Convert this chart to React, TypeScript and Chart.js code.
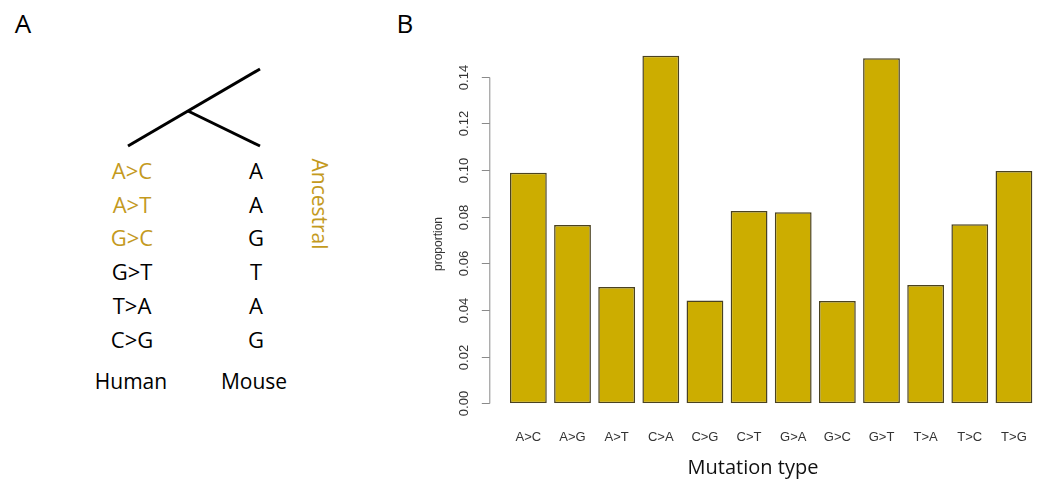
import React, { useEffect, useRef } from "react";
import { Chart, registerables } from "chart.js";

Chart.register(...registerables);

// ---------- Data ----------
const CATEGORIES = ["A>C", "A>G", "A>T", "C>A", "C>G", "C>T", "G>A", "G>C", "G>T", "T>A", "T>C", "T>G"];
const PROPORTIONS = [0.0988, 0.0764, 0.0499, 0.149, 0.0441, 0.0824, 0.0819, 0.0438, 0.1479, 0.0507, 0.0767, 0.0996];
const Y_TICK_VALUES = [0, 0.02, 0.04, 0.06, 0.08, 0.1, 0.12, 0.14];
const Y_TICK_LABELS = ["0.00", "0.02", "0.04", "0.06", "0.08", "0.10", "0.12", "0.14"];
const Y_TITLE = "proportion";
const X_TITLE = "Mutation type";

// Panel A content
const HUMAN_CHANGES = ["A>C", "A>T", "G>C", "G>T", "T>A", "C>G"];
const HUMAN_IS_ANCESTRAL = [true, true, true, false, false, false];
const MOUSE_BASES = ["A", "A", "G", "T", "A", "G"];
const SPECIES = ["Human", "Mouse"];
const ANCESTRAL_LABEL = "Ancestral";

const GOLD_TEXT = "#C49A1E";
const BAR_FILL = "#CCAD00";
const BAR_EDGE = "#4a4220";
const SANS = '"Liberation Sans", Arial, Helvetica, sans-serif';
const HUMANIST = '"Open Sans", "Noto Sans", sans-serif';

const yAxisPlugin = {
  id: "rStyleAxis",
  afterDraw(chart: any) {
    const { ctx, chartArea } = chart;
    const y = chart.scales.y;
    const ax = chartArea.left - 17;
    ctx.save();
    ctx.strokeStyle = "#8a8a8a";
    ctx.lineWidth = 1;
    const y0 = y.getPixelForValue(Y_TICK_VALUES[0]);
    const y1 = y.getPixelForValue(Y_TICK_VALUES[Y_TICK_VALUES.length - 1]);
    ctx.beginPath();
    ctx.moveTo(ax + 0.5, Math.round(y0) + 0.5);
    ctx.lineTo(ax + 0.5, Math.round(y1) + 0.5);
    ctx.stroke();
    ctx.fillStyle = "#333";
    ctx.font = `13px ${SANS}`;
    ctx.textAlign = "center";
    ctx.textBaseline = "middle";
    Y_TICK_VALUES.forEach((v, i) => {
      const py = Math.round(y.getPixelForValue(v)) + 0.5;
      ctx.beginPath();
      ctx.moveTo(ax - 7.5, py);
      ctx.lineTo(ax + 0.5, py);
      ctx.stroke();
      ctx.save();
      ctx.translate(ax - 25, py);
      ctx.rotate(-Math.PI / 2);
      ctx.fillText(Y_TICK_LABELS[i], 0, 0);
      ctx.restore();
    });
    // y title
    ctx.save();
    ctx.font = `12px ${SANS}`;
    ctx.translate(ax - 51, (y0 + y1) / 2 + 4);
    ctx.rotate(-Math.PI / 2);
    ctx.fillText(Y_TITLE, 0, 0);
    ctx.restore();
    // x title
    ctx.font = `20px ${HUMANIST}`;
    ctx.fillStyle = "#111";
    ctx.fillText(X_TITLE, 353, 468);
    ctx.restore();
  },
};

function BarPanel() {
  const ref = useRef<HTMLCanvasElement>(null);
  useEffect(() => {
    if (!ref.current) return;
    const chart = new Chart(ref.current, {
      type: "bar",
      data: {
        labels: CATEGORIES,
        datasets: [
          {
            data: PROPORTIONS,
            backgroundColor: BAR_FILL,
            borderColor: BAR_EDGE,
            borderWidth: 1.5,
            borderSkipped: false,
            barPercentage: 0.8337,
            categoryPercentage: 1,
          },
        ],
      },
      options: {
        responsive: false,
        animation: false,
        devicePixelRatio: 1,
        layout: { padding: { top: 48.7, right: 4, left: 0, bottom: 0 } },
        plugins: { legend: { display: false }, tooltip: { enabled: false }, title: { display: false } },
        scales: {
          x: {
            grid: { display: false },
            border: { display: false },
            ticks: {
              color: "#333",
              font: { family: SANS, size: 13 },
              padding: 18,
              maxRotation: 0,
              minRotation: 0,
              autoSkip: false,
            },
            afterFit(s: any) {
              s.height = 76.7;
              s.paddingLeft = 0;
              s.paddingRight = 0;
            },
          },
          y: {
            min: 0,
            max: 0.152,
            grid: { display: false },
            border: { display: false },
            ticks: { display: false, stepSize: 0.02, includeBounds: false },
            afterFit(s: any) {
              s.width = 106.3;
              s.paddingTop = 0;
              s.paddingBottom = 0;
            },
          },
        },
      } as any,
      plugins: [yAxisPlugin],
    });
    return () => chart.destroy();
  }, []);
  return (
    <canvas
      ref={ref}
      width={640}
      height={480}
      style={{ position: "absolute", left: 400, top: 0, width: 640, height: 480 }}
    />
  );
}

const ROW_Y = [170, 203.5, 237, 271, 305, 339];

function Label(props: { x: number; y: number; text: string; color?: string; size?: number; rotate?: number }) {
  const { x, y, text, color = "#000", size = 22, rotate = 0 } = props;
  return (
    <div
      style={{
        position: "absolute",
        left: x,
        top: y,
        transform: `translate(-50%, -50%) rotate(${rotate}deg)`,
        whiteSpace: "nowrap",
        fontFamily: HUMANIST,
        fontSize: size,
        lineHeight: 1,
        color,
      }}
    >
      {text}
    </div>
  );
}

export default function App() {
  return (
    <div
      style={{
        position: "absolute",
        left: 0,
        top: 0,
        width: 1040,
        height: 480,
        background: "#fff",
        overflow: "hidden",
      }}
    >
      <Label x={23} y={23} text="A" size={26} />
      <Label x={405} y={23} text="B" size={26} />
      <svg width={400} height={480} style={{ position: "absolute", left: 0, top: 0 }}>
        <line x1={128} y1={146} x2={260} y2={69} stroke="#000" strokeWidth={3} />
        <line x1={188} y1={111} x2={260} y2={146} stroke="#000" strokeWidth={3} />
      </svg>
      {HUMAN_CHANGES.map((t, i) => (
        <Label key={"h" + i} x={132} y={ROW_Y[i]} text={t} color={HUMAN_IS_ANCESTRAL[i] ? GOLD_TEXT : "#000"} />
      ))}
      {MOUSE_BASES.map((t, i) => (
        <Label key={"m" + i} x={256} y={ROW_Y[i]} text={t} />
      ))}
      <Label x={131} y={381} text={SPECIES[0]} size={21} />
      <Label x={254} y={381} text={SPECIES[1]} size={21} />
      <Label x={319} y={204} text={ANCESTRAL_LABEL} color={GOLD_TEXT} size={21} rotate={90} />
      <BarPanel />
    </div>
  );
}
